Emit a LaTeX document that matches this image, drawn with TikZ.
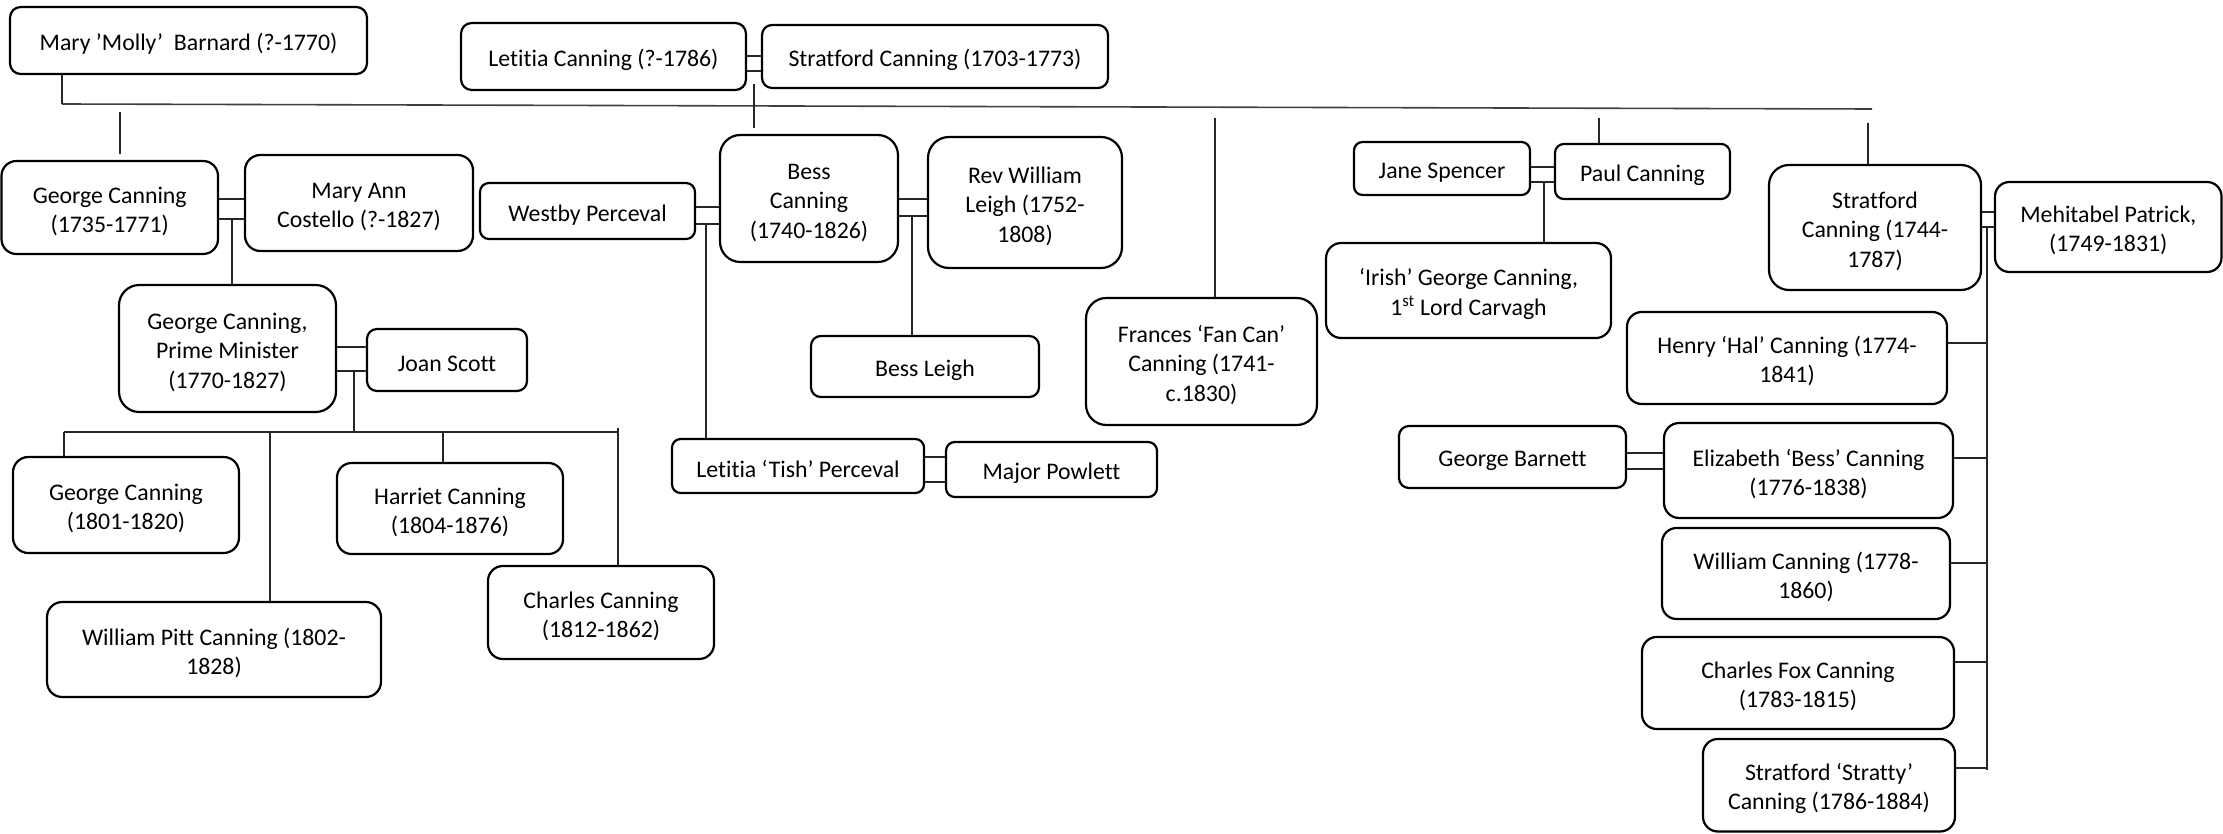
\documentclass[tikz,border=0pt]{standalone}
\usepackage{fontspec}
\setmainfont{Carlito}[Ligatures={TeX,NoCommon}]
\tikzset{
  box/.style={draw=black, line width=2.2pt, align=center, inner sep=0pt,
    font=\fontsize{23.8}{29.2}\selectfont},
  conn/.style={draw=black!85, line width=1.2pt},
  mainline/.style={draw=black!75, line width=1.6pt},
}
\newcommand\pbox[6]{%
  \pgfmathsetmacro\mybw{#4-#2}%
  \pgfmathsetmacro\mybh{#5-#3}%
  \pgfmathsetmacro\mybr{0.16*min(\mybw,\mybh)}%
  \node[box, minimum width=\mybw pt, minimum height=\mybh pt, rounded corners=\mybr pt]
    (#1) at ({(#2+#4)/2},{(#3+#5)/2}) {\rule{0pt}{24pt}#6};}
\newcommand\marry[4]{%
  \draw[conn] (#1.east |- 0,#3) -- (#2.west |- 0,#3);
  \draw[conn] (#1.east |- 0,#4) -- (#2.west |- 0,#4);}
\begin{document}
\begin{tikzpicture}[x=1pt,y=-1pt]
\fill[white] (0,0) rectangle (2223,834);
\useasboundingbox (0,0) rectangle (2223,834);

% boxes
\pbox{molly}{10}{7}{367}{74}{Mary ’Molly’~ Barnard (?-1770)}
\pbox{letitia}{461}{23}{746}{90}{Letitia Canning (?-1786)}
\pbox{stratford}{762}{25}{1108}{88}{Stratford Canning (1703-1773)}
\pbox{georgeA}{1.5}{161}{218}{254}{George Canning\\(1735-1771)}
\pbox{maryann}{245}{155}{473}{251}{Mary Ann\\Costello (?-1827)}
\pbox{westby}{480}{183}{695}{239}{Westby Perceval}
\pbox{bess}{720}{135}{898}{262}{Bess\\Canning\\(1740-1826)}
\pbox{leigh}{928}{137}{1122}{268}{Rev William\\Leigh (1752-\\1808)}
\pbox{bessleigh}{811}{336}{1039}{397}{Bess Leigh}
\pbox{fancan}{1086}{298}{1317}{425}{Frances ‘Fan Can’\\Canning (1741-\\c.1830)}
\pbox{jane}{1354}{142}{1530}{195}{Jane Spencer}
\pbox{paul}{1555}{144}{1730}{199}{Paul Canning}
\pbox{irish}{1326}{243}{1611}{338}{‘Irish’ George Canning,\\1\textsuperscript{st} Lord Carvagh}
\pbox{stratB}{1769}{165}{1981}{290}{Stratford\\Canning (1744-\\1787)}
\pbox{mehitabel}{1995}{182}{2221.5}{272}{Mehitabel Patrick,\\(1749-1831)}
\pbox{henry}{1627}{312}{1947}{404}{Henry ‘Hal’ Canning (1774-\\1841)}
\pbox{barnett}{1399}{426}{1626}{488}{George Barnett}
\pbox{elizabeth}{1664}{423}{1953}{518}{Elizabeth ‘Bess’ Canning\\(1776-1838)}
\pbox{william}{1662}{528}{1950}{619}{William Canning (1778-\\1860)}
\pbox{charlesfox}{1642}{637}{1954}{729}{Charles Fox Canning\\(1783-1815)}
\pbox{stratty}{1703}{739}{1955}{831.5}{Stratford ‘Stratty’\\Canning (1786-1884)}
\pbox{pm}{119}{285}{336}{412}{George Canning,\\Prime Minister\\(1770-1827)}
\pbox{joan}{367}{329}{527}{391}{Joan Scott}
\pbox{georgeB}{13}{457}{239}{553}{George Canning\\(1801-1820)}
\pbox{pitt}{47}{602}{381}{697}{William Pitt Canning (1802-\\1828)}
\pbox{harriet}{337}{463}{563}{554}{Harriet Canning\\(1804-1876)}
\pbox{charles}{488}{566}{714}{659}{Charles Canning\\(1812-1862)}
\pbox{tish}{672}{439}{924}{493}{Letitia ‘Tish’ Perceval}
\pbox{powlett}{946}{442}{1157}{497}{Major Powlett}

% marriages
\marry{letitia}{stratford}{56}{71}
\marry{georgeA}{maryann}{199}{219}
\marry{westby}{bess}{207}{224}
\marry{bess}{leigh}{199}{216}
\marry{jane}{paul}{167}{182}
\marry{stratB}{mehitabel}{212}{227}
\marry{pm}{joan}{347}{371}
\marry{tish}{powlett}{457}{482}
\marry{barnett}{elizabeth}{453}{469}

% main sibling line
\coordinate (L) at (62,104);
\coordinate (R) at (1872,109);
\draw[mainline] (L) -- (R);
\draw[conn] (molly.south -| L) -- (L);
\coordinate (gAt) at (120,112);
\coordinate (gAb) at (120,154);
\draw[conn] (gAt) -- (gAb);
\coordinate (lsa) at (754,84);
\coordinate (lsb) at (754,128);
\draw[conn] (lsa) -- (lsb);
\coordinate (fc) at (1215,118);
\draw[conn] (fc) -- (fc |- fancan.north);
\coordinate (pc) at (1599,118);
\draw[conn] (pc) -- (pc |- paul.north);
\coordinate (sc) at (1868,123);
\draw[conn] (sc) -- (sc |- stratB.north);

% children lines
\coordinate (gm) at (232,219);
\draw[conn] (gm) -- (gm |- pm.north);
\coordinate (wb) at (706,225);
\draw[conn] (wb) -- (wb |- tish.north);
\coordinate (bl) at (912,216);
\draw[conn] (bl) -- (bl |- bessleigh.north);
\coordinate (jp) at (1544,182);
\draw[conn] (jp) -- (jp |- irish.north);

% Stratford & Mehitabel children
\coordinate (sm) at (1987,227);
\coordinate (smb) at (1987,770);
\draw[conn] (sm) -- (smb);
\draw[conn] (henry.east |- 0,343) -- (sm |- 0,343);
\draw[conn] (elizabeth.east |- 0,458) -- (sm |- 0,458);
\draw[conn] (william.east |- 0,563) -- (sm |- 0,563);
\draw[conn] (charlesfox.east |- 0,662) -- (sm |- 0,662);
\draw[conn] (stratty.east |- 0,768) -- (sm |- 0,768);

% PM children
\coordinate (pj) at (354,371);
\coordinate (cl) at (64,432);
\coordinate (cr) at (618,432);
\draw[conn] (pj) -- (pj |- cl);
\draw[conn] (cl) -- (cr);
\draw[conn] (cl) -- (cl |- georgeB.north);
\coordinate (cp) at (270,432);
\draw[conn] (cp) -- (cp |- pitt.north);
\coordinate (ch) at (443,432);
\draw[conn] (ch) -- (ch |- harriet.north);
\coordinate (cc) at (618,428);
\draw[conn] (cc) -- (cc |- charles.north);
\end{tikzpicture}
\end{document}
